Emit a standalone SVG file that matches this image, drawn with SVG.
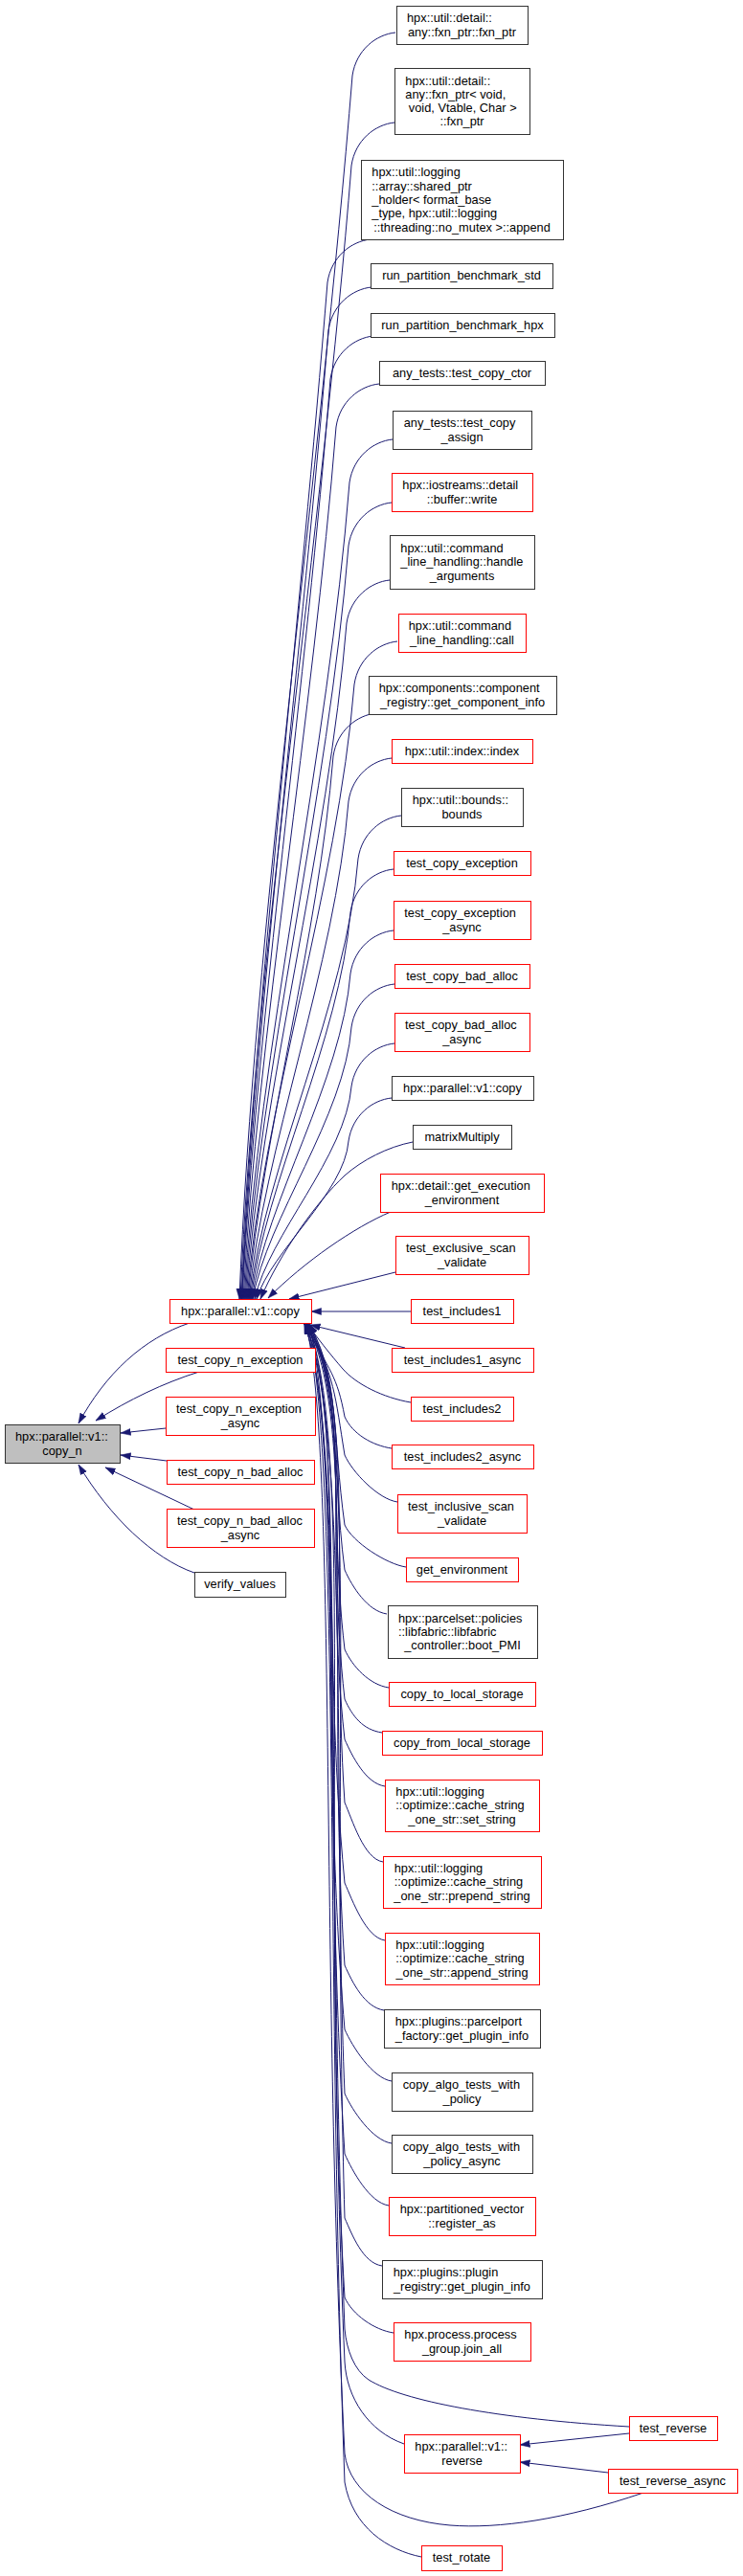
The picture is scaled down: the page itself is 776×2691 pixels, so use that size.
<svg xmlns="http://www.w3.org/2000/svg" width="776" height="2691" viewBox="0 0 776 2691">
<style>
.n rect{fill:#fff;stroke:#333;stroke-width:1}
.r rect{stroke:#f00}
.g rect{fill:#bfbfbf}
.e path{fill:none;stroke:#191970;stroke-width:1;marker-end:url(#a)}
text{font-family:"Liberation Sans",Arial,Helvetica,sans-serif;font-size:12.8px;fill:#000}
.m{text-anchor:middle}
</style>
<defs>
<marker id="a" markerUnits="userSpaceOnUse" markerWidth="11" markerHeight="8" viewBox="0 0 11 8" refX="10.5" refY="4" orient="auto">
<path d="M0,0.5 L10.5,4 L0,7.5 Z" fill="#191970" stroke="#191970" stroke-width="0.5"/>
</marker>
</defs>
<rect width="776" height="2691" fill="#fff"/>
<g id="edges" class="e">
<path d="M413,34 C393,36 372,52 368,79 C334,501 265,974 250,1357"/>
<path d="M412,128 C392,130 371,146 367,173 C336,564 266,1002 251,1357"/>
<path d="M387,250 C367,252 346,268 342,295 C314,645 267,1038 252,1357"/>
<path d="M388,300 C368,302 347,318 343,345 C316,679 267.5,1053 252.5,1357"/>
<path d="M390,351 C370,353 349,369 345,396 C320,713 268,1069 253,1357"/>
<path d="M396,401 C376,403 355,419 351,446 C327,747 269,1084 254,1357"/>
<path d="M410,459 C390,461 369,477 365,504 C343,785 270,1101 255,1357"/>
<path d="M409,525 C389,527 368,543 364,570 C343,830 271,1121 256,1357"/>
<path d="M407,606 C387,608 366,624 362,651 C343,884 272,1145 257,1357"/>
<path d="M415,670 C395,672 374,688 370,715 C353,927 273,1164 258,1357"/>
<path d="M393,745 C373,747 352,763 348,790 C333,977 274,1187 259,1357"/>
<path d="M409,792 C389,794 368,810 364,837 C350,1009 275,1201 260,1357"/>
<path d="M419,852 C399,854 378,870 374,897 C362,1049 276,1219 261,1357"/>
<path d="M411,908 C391,910 370,926 366,953 C355,1086 277,1236 262,1357"/>
<path d="M411,972 C391,974 370,990 366,1017 C357,1129 278,1255 263,1357"/>
<path d="M412,1028 C392,1030 371,1046 367,1073 C360,1167 279,1272 264,1357"/>
<path d="M412,1090 C392,1092 371,1108 367,1135 C361,1208 281,1290 266,1357"/>
<path d="M409,1147 C389,1149 368,1165 364,1192 C360,1246 283,1307 268,1357"/>
<path d="M431,1193 C405,1198 378,1212 360,1228 C330,1256 292,1310 272,1357"/>
<path d="M408,1266 C370,1282 318,1318 280,1356"/>
<path d="M413,1329 L302,1357"/>
<path d="M429,1370 L325,1370"/>
<path d="M423,1408 L324,1384"/>
<path d="M429,1465 C400,1460 372,1446 358,1430 C345,1415 330,1396 322,1384"/>
<path d="M409,1513 C389,1510 368,1498 360,1480 C352,1437 345,1433 318,1383"/>
<path d="M415,1569 C395,1566 368,1538 360,1520 C350,1459 350,1436 319.5,1383"/>
<path d="M424,1637 C404,1634 368,1611 360,1593 C347,1499 355,1442 321,1383"/>
<path d="M404,1686 C384,1683 368,1658 360,1640 C345,1525 360,1445 322.5,1383"/>
<path d="M406,1763 C386,1760 368,1741 360,1723 C342,1571 365,1452 318,1383"/>
<path d="M399,1810 C379,1807 368,1793 360,1775 C340,1599 368,1456 319.5,1383"/>
<path d="M402,1866 C382,1863 368,1835 360,1817 C338,1623 370,1460 321,1383"/>
<path d="M400,1945 C380,1942 368,1901 360,1883 C345,1659 372,1465 322.5,1383"/>
<path d="M402,2027 C382,2024 368,1985 360,1967 C335,1705 360,1472 318,1383"/>
<path d="M401,2100 C381,2097 368,2071 360,2053 C340,1752 374,1478 319.5,1383"/>
<path d="M409,2174 C389,2171 368,2138 360,2120 C332,1789 362,1484 321,1383"/>
<path d="M409,2239 C389,2236 368,2205 360,2187 C345,1826 376,1489 322.5,1383"/>
<path d="M406,2304 C386,2301 368,2268 360,2250 C336,1861 358,1494 318,1383"/>
<path d="M399,2367 C379,2364 368,2335 360,2317 C348,1898 366,1500 319.5,1383"/>
<path d="M411,2437 C391,2434 368,2418 360,2400 C333,1943 372,1506 321,1383"/>
<path d="M657,2535 C520,2527 420,2508 385,2486 C370,2476 362,2455 360,2433 C342,1961 356,1509 322.5,1383"/>
<path d="M422,2553 C385,2540 362,2505 360,2467 C338,1980 364,1512 318,1383"/>
<path d="M672,2604 C590,2632 520,2642 470,2638 C410,2633 365,2605 360,2563 C334,2033 352,1519 319.5,1383"/>
<path d="M440,2671 C405,2664 368,2640 360,2593 C340,2049 355,1522 321,1383"/>
<path d="M657,2542 L543,2554"/>
<path d="M635,2583 L543,2572"/>
<path d="M198,1382 C150,1398 110,1435 82,1487"/>
<path d="M208,1433 C170,1445 135,1462 100,1484"/>
<path d="M173,1492 L126,1497"/>
<path d="M174,1526 L126,1520"/>
<path d="M203,1577 L110,1533"/>
<path d="M203,1643 C160,1628 115,1585 82,1530"/>
</g>
<g id="copy_n" class="n g"><rect x="5.5" y="1488.5" width="120" height="40"/><text x="16" y="1505.25">hpx::parallel::v1::</text><text class="m" x="65" y="1519.55">copy_n</text></g>
<g id="copy_red" class="n r"><rect x="177.5" y="1357.5" width="148" height="25"/><text class="m" x="251" y="1373.9">hpx::parallel::v1::copy</text></g>
<g id="test_copy_n_exception" class="n r"><rect x="173.5" y="1408.5" width="156" height="25"/><text class="m" x="251" y="1424.9">test_copy_n_exception</text></g>
<g id="test_copy_n_exception_async" class="n r"><rect x="173.5" y="1459.5" width="156" height="40"/><text x="184" y="1476.25">test_copy_n_exception</text><text class="m" x="251" y="1490.55">_async</text></g>
<g id="test_copy_n_bad_alloc" class="n r"><rect x="174.5" y="1525.5" width="154" height="25"/><text class="m" x="251" y="1541.9">test_copy_n_bad_alloc</text></g>
<g id="test_copy_n_bad_alloc_async" class="n r"><rect x="174.5" y="1576.5" width="154" height="40"/><text x="185" y="1593.25">test_copy_n_bad_alloc</text><text class="m" x="251" y="1607.55">_async</text></g>
<g id="verify_values" class="n"><rect x="203.5" y="1642.5" width="95" height="26"/><text class="m" x="250.5" y="1659.4">verify_values</text></g>
<g id="n1" class="n"><rect x="414.5" y="6.5" width="137" height="40"/><text x="425" y="23.2">hpx::util::detail::</text><text class="m" x="482.5" y="37.6">any::fxn_ptr::fxn_ptr</text></g>
<g id="n2" class="n"><rect x="412.5" y="71.5" width="141" height="69"/><text x="423.3" y="88.5">hpx::util::detail::</text><text x="423.3" y="102.8">any::fxn_ptr&lt; void,</text><text x="423.3" y="117.1" xml:space="preserve"> void, Vtable, Char &gt;</text><text class="m" x="482.5" y="131.4">::fxn_ptr</text></g>
<g id="n3" class="n"><rect x="377.5" y="167.5" width="211" height="83"/><text x="388.3" y="184.3">hpx::util::logging</text><text x="388.3" y="198.6">::array::shared_ptr</text><text x="388.3" y="212.9">_holder&lt; format_base</text><text x="388.3" y="227.2">_type, hpx::util::logging</text><text class="m" x="482.5" y="241.5">::threading::no_mutex &gt;::append</text></g>
<g id="n4" class="n"><rect x="387.5" y="275.5" width="190" height="26"/><text class="m" x="482" y="292.4">run_partition_benchmark_std</text></g>
<g id="n5" class="n"><rect x="387.5" y="327.5" width="192" height="25"/><text class="m" x="483" y="343.9">run_partition_benchmark_hpx</text></g>
<g id="n6" class="n"><rect x="396.5" y="377.5" width="173" height="25"/><text class="m" x="482.5" y="393.9">any_tests::test_copy_ctor</text></g>
<g id="n7" class="n"><rect x="410.5" y="429.5" width="145" height="40"/><text x="421.7" y="446.25">any_tests::test_copy</text><text class="m" x="482.5" y="460.55">_assign</text></g>
<g id="n8" class="n r"><rect x="409.5" y="494.5" width="147" height="40"/><text x="420.3" y="511.25">hpx::iostreams::detail</text><text class="m" x="482.5" y="525.55">::buffer::write</text></g>
<g id="n9" class="n"><rect x="407.5" y="559.5" width="151" height="56"/><text x="418.3" y="577.1">hpx::util::command</text><text x="418.3" y="591.4">_line_handling::handle</text><text class="m" x="482.5" y="605.7">_arguments</text></g>
<g id="n10" class="n r"><rect x="416.5" y="641.5" width="133" height="40"/><text x="426.7" y="658.25">hpx::util::command</text><text class="m" x="482.5" y="672.55">_line_handling::call</text></g>
<g id="n11" class="n"><rect x="385.5" y="706.5" width="196" height="40"/><text x="395.7" y="723.25">hpx::components::component</text><text class="m" x="483" y="737.55">_registry::get_component_info</text></g>
<g id="n12" class="n r"><rect x="409.5" y="772.5" width="147" height="25"/><text class="m" x="482.5" y="788.9">hpx::util::index::index</text></g>
<g id="n13" class="n"><rect x="419.5" y="823.5" width="127" height="40"/><text x="430.7" y="840.25">hpx::util::bounds::</text><text class="m" x="482.5" y="854.55">bounds</text></g>
<g id="n14" class="n r"><rect x="411.5" y="889.5" width="143" height="25"/><text class="m" x="482.5" y="905.9">test_copy_exception</text></g>
<g id="n15" class="n r"><rect x="411.5" y="941.5" width="143" height="40"/><text x="422.3" y="958.25">test_copy_exception</text><text class="m" x="482.5" y="972.55">_async</text></g>
<g id="n16" class="n r"><rect x="412.5" y="1007.5" width="141" height="25"/><text class="m" x="482.5" y="1023.9">test_copy_bad_alloc</text></g>
<g id="n17" class="n r"><rect x="412.5" y="1058.5" width="141" height="40"/><text x="423" y="1075.25">test_copy_bad_alloc</text><text class="m" x="482.5" y="1089.55">_async</text></g>
<g id="n18" class="n"><rect x="409.5" y="1124.5" width="148" height="25"/><text class="m" x="483" y="1140.9">hpx::parallel::v1::copy</text></g>
<g id="n19" class="n"><rect x="431.5" y="1175.5" width="103" height="25"/><text class="m" x="482.5" y="1191.9">matrixMultiply</text></g>
<g id="n20" class="n r"><rect x="397.5" y="1226.5" width="171" height="40"/><text x="408.7" y="1243.25">hpx::detail::get_execution</text><text class="m" x="482.5" y="1257.55">_environment</text></g>
<g id="n21" class="n r"><rect x="413.5" y="1291.5" width="139" height="40"/><text x="424" y="1308.25">test_exclusive_scan</text><text class="m" x="482.5" y="1322.55">_validate</text></g>
<g id="n22" class="n r"><rect x="429.5" y="1357.5" width="107" height="25"/><text class="m" x="482.5" y="1373.9">test_includes1</text></g>
<g id="n23" class="n r"><rect x="409.5" y="1408.5" width="148" height="25"/><text class="m" x="483" y="1424.9">test_includes1_async</text></g>
<g id="n24" class="n r"><rect x="429.5" y="1459.5" width="107" height="25"/><text class="m" x="482.5" y="1475.9">test_includes2</text></g>
<g id="n25" class="n r"><rect x="409.5" y="1509.5" width="148" height="25"/><text class="m" x="483" y="1525.9">test_includes2_async</text></g>
<g id="n26" class="n r"><rect x="415.5" y="1561.5" width="135" height="40"/><text x="426" y="1578.25">test_inclusive_scan</text><text class="m" x="482.5" y="1592.55">_validate</text></g>
<g id="n27" class="n r"><rect x="424.5" y="1627.5" width="117" height="25"/><text class="m" x="482.5" y="1643.9">get_environment</text></g>
<g id="n28" class="n"><rect x="405.5" y="1677.5" width="156" height="55"/><text x="416" y="1694.6">hpx::parcelset::policies</text><text x="416" y="1708.9">::libfabric::libfabric</text><text class="m" x="483" y="1723.2">_controller::boot_PMI</text></g>
<g id="n29" class="n r"><rect x="406.5" y="1757.5" width="153" height="25"/><text class="m" x="482.5" y="1773.9">copy_to_local_storage</text></g>
<g id="n30" class="n r"><rect x="399.5" y="1808.5" width="167" height="25"/><text class="m" x="482.5" y="1824.9">copy_from_local_storage</text></g>
<g id="n31" class="n r"><rect x="402.5" y="1859.5" width="161" height="54"/><text x="413.3" y="1876.1">hpx::util::logging</text><text x="413.3" y="1890.4">::optimize::cache_string</text><text class="m" x="482.5" y="1904.7">_one_str::set_string</text></g>
<g id="n32" class="n r"><rect x="400.5" y="1939.5" width="165" height="54"/><text x="411.7" y="1956.1">hpx::util::logging</text><text x="411.7" y="1970.4">::optimize::cache_string</text><text class="m" x="482.5" y="1984.7">_one_str::prepend_string</text></g>
<g id="n33" class="n r"><rect x="402.5" y="2019.5" width="161" height="54"/><text x="413.3" y="2036.1">hpx::util::logging</text><text x="413.3" y="2050.4">::optimize::cache_string</text><text class="m" x="482.5" y="2064.7">_one_str::append_string</text></g>
<g id="n34" class="n"><rect x="401.5" y="2099.5" width="163" height="40"/><text x="412.7" y="2116.25">hpx::plugins::parcelport</text><text class="m" x="482.5" y="2130.55">_factory::get_plugin_info</text></g>
<g id="n35" class="n"><rect x="409.5" y="2165.5" width="147" height="40"/><text x="420.7" y="2182.25">copy_algo_tests_with</text><text class="m" x="482.5" y="2196.55">_policy</text></g>
<g id="n36" class="n"><rect x="409.5" y="2230.5" width="147" height="40"/><text x="420.7" y="2247.25">copy_algo_tests_with</text><text class="m" x="482.5" y="2261.55">_policy_async</text></g>
<g id="n37" class="n r"><rect x="406.5" y="2295.5" width="153" height="40"/><text x="417.7" y="2312.25">hpx::partitioned_vector</text><text class="m" x="482.5" y="2326.55">::register_as</text></g>
<g id="n38" class="n"><rect x="399.5" y="2361.5" width="167" height="40"/><text x="410.7" y="2378.25">hpx::plugins::plugin</text><text class="m" x="482.5" y="2392.55">_registry::get_plugin_info</text></g>
<g id="n39" class="n r"><rect x="411.5" y="2426.5" width="143" height="40"/><text x="422.3" y="2443.25">hpx.process.process</text><text class="m" x="482.5" y="2457.55">_group.join_all</text></g>
<g id="n40" class="n r"><rect x="657.5" y="2524.5" width="92" height="25"/><text class="m" x="703" y="2540.9">test_reverse</text></g>
<g id="n41" class="n r"><rect x="422.5" y="2543.5" width="121" height="40"/><text x="433.3" y="2560.25">hpx::parallel::v1::</text><text class="m" x="482.5" y="2574.55">reverse</text></g>
<g id="n42" class="n r"><rect x="635.5" y="2579.5" width="135" height="25"/><text class="m" x="702.5" y="2595.9">test_reverse_async</text></g>
<g id="n43" class="n r"><rect x="440.5" y="2659.5" width="84" height="26"/><text class="m" x="482" y="2676.4">test_rotate</text></g>
</svg>
